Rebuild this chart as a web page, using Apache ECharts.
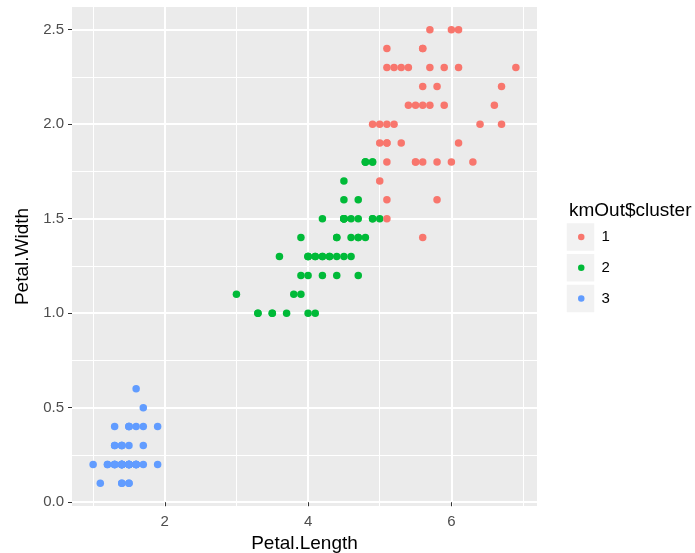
<!DOCTYPE html>
<html>
<head>
<meta charset="utf-8">
<script src="https://cdn.jsdelivr.net/npm/echarts@6/dist/echarts.min.js"></script>
<style>
html,body{margin:0;padding:0;background:#fff;}
#chart{width:695px;height:553px;}
</style>
</head>
<body>
<div id="chart"></div>
<script>
// Cluster 1 (red): [Petal.Length, Petal.Width]
const cluster1 = [
  [6.0,2.5],[5.1,1.9],[5.9,2.1],[5.6,1.8],[5.8,2.2],[6.6,2.1],[6.3,1.8],[5.8,1.8],[6.1,2.5],[5.1,2.0],
  [5.3,1.9],[5.5,2.1],[5.0,2.0],[5.1,2.4],[5.3,2.3],[5.5,1.8],[6.7,2.2],[6.9,2.3],[5.7,2.3],[4.9,2.0],
  [6.7,2.0],[5.7,2.1],[6.0,1.8],[5.6,2.1],[5.8,1.6],[6.1,1.9],[6.4,2.0],[5.6,2.2],[5.1,1.5],[5.6,1.4],
  [6.1,2.3],[5.6,2.4],[5.5,1.8],[5.4,2.1],[5.6,2.4],[5.1,2.3],[5.1,1.9],[5.9,2.3],[5.7,2.5],[5.2,2.3],
  [5.0,1.9],[5.2,2.0],[5.4,2.3],[5.1,1.8],[5.0,1.7],[5.1,1.6]
];
// Cluster 2 (green)
const cluster2 = [
  [4.7,1.4],[4.5,1.5],[4.9,1.5],[4.0,1.3],[4.6,1.5],[4.5,1.3],[4.7,1.6],[3.3,1.0],[4.6,1.3],[3.9,1.4],
  [3.5,1.0],[4.2,1.5],[4.0,1.0],[4.7,1.4],[3.6,1.3],[4.4,1.4],[4.5,1.5],[4.1,1.0],[4.5,1.5],[3.9,1.1],
  [4.8,1.8],[4.0,1.3],[4.9,1.5],[4.7,1.2],[4.3,1.3],[4.4,1.4],[4.8,1.4],[4.5,1.5],[3.5,1.0],[3.8,1.1],
  [3.7,1.0],[3.9,1.2],[4.5,1.5],[4.5,1.6],[4.7,1.5],[4.4,1.3],[4.1,1.3],[4.0,1.3],[4.4,1.2],[4.6,1.4],
  [4.0,1.2],[3.3,1.0],[4.2,1.3],[4.2,1.2],[4.2,1.3],[4.3,1.3],[3.0,1.1],[4.1,1.3],
  [4.5,1.7],[5.0,1.5],[4.9,1.8],[4.8,1.8],[4.9,1.8],[4.8,1.8]
];
// Cluster 3 (blue)
const cluster3 = [
  [1.4,0.2],[1.4,0.2],[1.3,0.2],[1.5,0.2],[1.4,0.2],[1.7,0.4],[1.4,0.3],[1.5,0.2],[1.4,0.2],[1.5,0.1],
  [1.5,0.2],[1.6,0.2],[1.4,0.1],[1.1,0.1],[1.2,0.2],[1.5,0.4],[1.3,0.4],[1.4,0.3],[1.7,0.3],[1.5,0.3],
  [1.7,0.2],[1.5,0.4],[1.0,0.2],[1.7,0.5],[1.9,0.2],[1.6,0.2],[1.6,0.4],[1.5,0.2],[1.4,0.2],[1.6,0.2],
  [1.6,0.2],[1.5,0.4],[1.5,0.1],[1.4,0.2],[1.5,0.2],[1.2,0.2],[1.3,0.2],[1.4,0.1],[1.3,0.2],[1.5,0.2],
  [1.3,0.3],[1.3,0.3],[1.3,0.2],[1.6,0.6],[1.9,0.4],[1.4,0.3],[1.6,0.2],[1.4,0.2],[1.5,0.2],[1.4,0.2]
];
const clusterNames = ['1','2','3'];
const xMajorTicks = [2,4,6];
const xMinorTicks = [1,3,5,7];
const yMajorTicks = [0,0.5,1,1.5,2,2.5];
const yMinorTicks = [0.25,0.75,1.25,1.75,2.25];
const xRange = [0.705, 7.195];
const yRange = [-0.02, 2.62];

const colors = ['#F8766D','#00BA38','#619CFF'];
const FONT = 'Helvetica, Arial, "Liberation Sans", sans-serif';

const chart = echarts.init(document.getElementById('chart'), null, {renderer:'canvas'});

const keyTop = 222.5, keyStep = 30.8;
const keyRects = clusterNames.map((n,i)=>({
  type:'rect', z:-1,
  shape:{x:566, y:keyTop + i*keyStep, width:29, height:29},
  style:{fill:'#F2F2F2', stroke:'#ffffff', lineWidth:1.5}
}));

const hiddenAxisParts = {
  axisLine:{show:false}, axisTick:{show:false}, axisLabel:{show:false}
};

chart.setOption({
  animation:false,
  backgroundColor:'#ffffff',
  title:{
    text:'kmOut$cluster', left:564, top:196,
    textStyle:{fontFamily:FONT, fontSize:19, fontWeight:'normal', color:'#000'}
  },
  legend:{
    data:clusterNames, orient:'vertical', left:578, top:225, padding:0,
    icon:'circle', itemWidth:6.5, itemHeight:6.5, itemGap:6.8,
    textStyle:{fontFamily:FONT, fontSize:15, color:'#000', lineHeight:24, padding:[0,0,0,12]}
  },
  graphic: keyRects,
  grid:{left:72, right:158, top:7, bottom:47, show:true, backgroundColor:'#EBEBEB', borderWidth:0,
    containLabel:false, outerBoundsMode:'none'},
  xAxis:[{
    type:'value', min:xRange[0], max:xRange[1],
    name:'Petal.Length', nameLocation:'middle', nameGap:25,
    nameTextStyle:{fontFamily:FONT, fontSize:19, color:'#000'},
    axisLine:{show:false},
    axisTick:{show:true, length:4, customValues:xMajorTicks, lineStyle:{color:'#333333', width:1}},
    axisLabel:{customValues:xMajorTicks, margin:8, fontFamily:FONT, fontSize:15, color:'#4D4D4D',
      formatter:v=>String(v)},
    splitLine:{show:true, lineStyle:{color:'#ffffff', width:2}}
  },{
    type:'value', min:xRange[0], max:xRange[1], position:'top', ...hiddenAxisParts,
    axisTick:{show:false, customValues:xMinorTicks},
    axisLabel:{show:false, customValues:xMinorTicks},
    splitLine:{show:true, lineStyle:{color:'#ffffff', width:1}}
  }],
  yAxis:[{
    type:'value', min:yRange[0], max:yRange[1],
    name:'Petal.Width', nameLocation:'middle', nameGap:36,
    nameTextStyle:{fontFamily:FONT, fontSize:19, color:'#000'},
    axisLine:{show:false},
    axisTick:{show:true, length:4, customValues:yMajorTicks, lineStyle:{color:'#333333', width:1}},
    axisLabel:{customValues:yMajorTicks, margin:8, fontFamily:FONT, fontSize:15, color:'#4D4D4D',
      formatter:v=>v.toFixed(1)},
    splitLine:{show:true, lineStyle:{color:'#ffffff', width:2}}
  },{
    type:'value', min:yRange[0], max:yRange[1], position:'right', ...hiddenAxisParts,
    axisTick:{show:false, customValues:yMinorTicks},
    axisLabel:{show:false, customValues:yMinorTicks},
    splitLine:{show:true, lineStyle:{color:'#ffffff', width:1}}
  }],
  series:[
    {name:clusterNames[2], type:'scatter', data:cluster3, symbolSize:7.5, itemStyle:{color:colors[2], opacity:1}},
    {name:clusterNames[1], type:'scatter', data:cluster2, symbolSize:7.5, itemStyle:{color:colors[1], opacity:1}},
    {name:clusterNames[0], type:'scatter', data:cluster1, symbolSize:7.5, itemStyle:{color:colors[0], opacity:1}}
  ]
});
</script>
</body>
</html>
